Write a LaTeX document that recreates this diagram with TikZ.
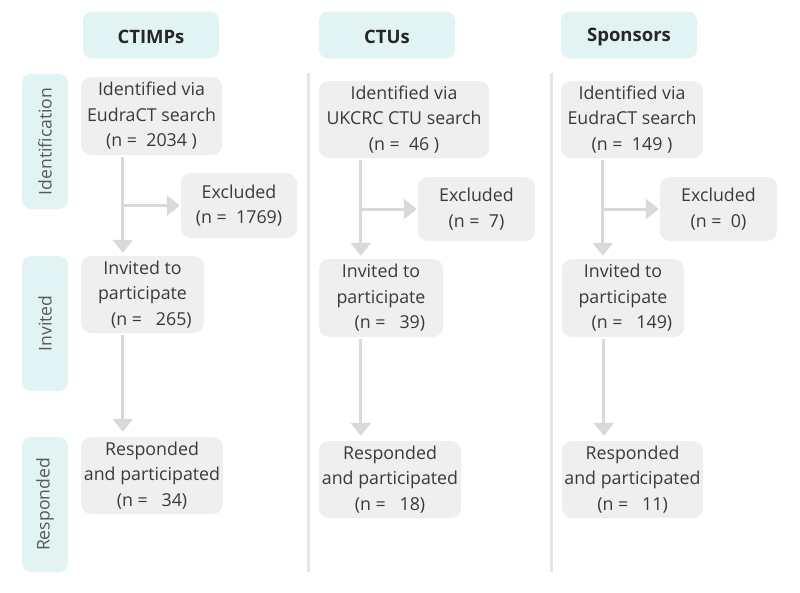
\documentclass[tikz,border=0pt]{standalone}
\usepackage{fontspec}
\setmainfont{Open Sans}
\usepackage{xcolor}
\usetikzlibrary{arrows.meta,positioning,calc}

\definecolor{headfill}{HTML}{E2F3F3}
\definecolor{boxfill}{HTML}{EFEFEF}
\definecolor{flowgray}{HTML}{D9D9D9}
\definecolor{sepgray}{HTML}{E6E6E6}
\definecolor{txtgray}{HTML}{3A3A3A}

\tikzset{
  header/.style={fill=headfill, rounded corners=9pt, minimum width=136, minimum height=47,
    font=\fontsize{18.5}{24}\selectfont\bfseries, text=black!85,
    execute at begin node={\rule{0pt}{17pt}}},
  sidelabel/.style={fill=headfill, rounded corners=9pt, minimum width=46, minimum height=135},
  sidetext/.style={rotate=90, font=\fontsize{17.6}{24}\selectfont, text=black!65},
  stepbox/.style={fill=boxfill, rounded corners=10pt, align=center, inner sep=0pt,
    font=\fontsize{17.8}{25.5}\selectfont, text=txtgray,
    execute at begin node={\rule{0pt}{21pt}}},
  flow/.style={draw=flowgray, line width=3pt, -{Triangle[width=20pt,length=13pt]}},
  sep/.style={draw=sepgray, line width=3pt}
}

\begin{document}
\begin{tikzpicture}[x=1pt, y=-1pt]
\useasboundingbox (0,0) rectangle (800,592);

% Column headers
\node[header] (h1) at (151,35) {CTIMPs};
\node[header] (h2) at (387,35) {CTUs};
\node[header] (h3) at (629,35) {Sponsors};

% Stage labels
\node[sidelabel] (s1) at (45,141.5) {};
\node[sidetext] at (s1) {Identification};
\node[sidelabel] (s2) at (45,323.5) {};
\node[sidetext] at (s2) {Invited};
\node[sidelabel] (s3) at (45,504.5) {};
\node[sidetext] at (s3) {Responded};

% Separators
\coordinate (sa) at (308,73);
\coordinate (sb) at (551,73);
\draw[sep] (sa) -- ++(0,499);
\draw[sep] (sb) -- ++(0,499);

% CTIMPs
\node[stepbox, minimum width=141, minimum height=78] (id1) at (151.5,116) {Identified via\\EudraCT search\\(n =~~2034 )};
\node[stepbox, minimum width=116, minimum height=65] (ex1) at (239,205.5) {Excluded\\(n =~~1769)};
\node[stepbox, minimum width=123, minimum height=77] (inv1) at (142.5,294.5) {Invited to\\participate\\\quad(n =~~~265)};
\node[stepbox, minimum width=142, minimum height=77] (res1) at (152,475.5) {Responded\\and participated\\(n =~~~34)};

% CTUs
\node[stepbox, minimum width=170, minimum height=77] (id2) at (404,119.5) {Identified via\\UKCRC CTU search\\(n =~~46 )};
\node[stepbox, minimum width=117, minimum height=64] (ex2) at (476.5,209) {Excluded\\(n =~~7)};
\node[stepbox, minimum width=124, minimum height=78] (inv2) at (381,298) {Invited to\\participate\\\quad(n =~~~39)};
\node[stepbox, minimum width=142, minimum height=77] (res2) at (390,479.5) {Responded\\and participated\\(n =~~~18)};

% Sponsors
\node[stepbox, minimum width=142, minimum height=77] (id3) at (632,119.5) {Identified via\\EudraCT search\\(n =~~149 )};
\node[stepbox, minimum width=117, minimum height=64] (ex3) at (718.5,209) {Excluded\\(n =~~0)};
\node[stepbox, minimum width=122, minimum height=78] (inv3) at (623,298) {Invited to\\participate\\\quad(n =~~~149)};
\node[stepbox, minimum width=141, minimum height=77] (res3) at (632.5,479.5) {Responded\\and participated\\(n =~~~11)};

% Flow arrows
\foreach \c in {1,2,3} {
  \coordinate (t\c) at ($(id\c.south west)+(42,2)$);
  \coordinate (u\c) at ($(inv\c.south west)+(42,2)$);
  \draw[flow, shorten >=3pt] (t\c) -- (t\c |- inv\c.north);
  \draw[flow, shorten >=1pt] (t\c |- ex\c.west) -- (ex\c.west);
  \draw[flow, shorten >=5pt] (u\c) -- (u\c |- res\c.north);
}
\end{tikzpicture}
\end{document}
